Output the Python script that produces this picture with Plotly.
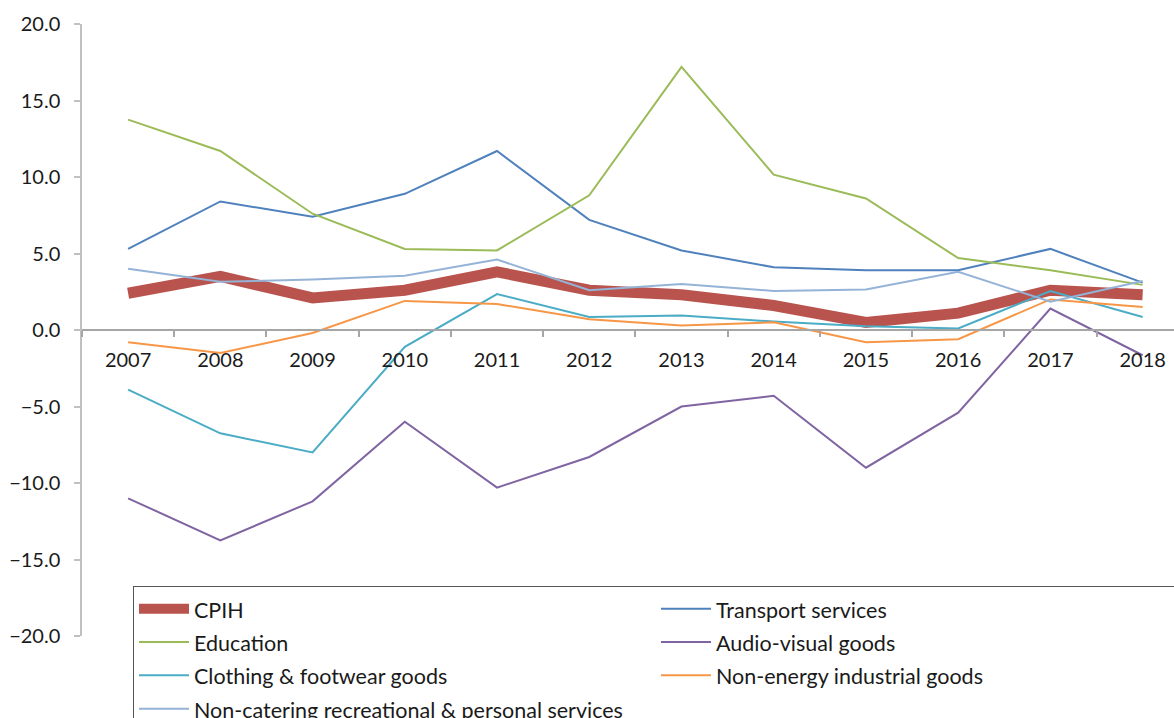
import plotly.graph_objects as go

years = ["2007", "2008", "2009", "2010", "2011", "2012", "2013", "2014", "2015", "2016", "2017", "2018"]

cpih = [2.4, 3.5, 2.1, 2.6, 3.8, 2.6, 2.3, 1.6, 0.5, 1.1, 2.6, 2.3]
transport = [5.3, 8.4, 7.4, 8.9, 11.7, 7.2, 5.2, 4.1, 3.9, 3.9, 5.3, 3.1]
education = [13.75, 11.7, 7.6, 5.3, 5.2, 8.8, 17.2, 10.15, 8.6, 4.7, 3.9, 2.95]
audio_visual = [-11.0, -13.75, -11.2, -6.0, -10.3, -8.3, -5.0, -4.3, -9.0, -5.4, 1.4, -1.65]
clothing = [-3.9, -6.75, -8.0, -1.1, 2.35, 0.85, 0.95, 0.55, 0.25, 0.1, 2.55, 0.85]
non_energy = [-0.8, -1.5, -0.2, 1.9, 1.7, 0.7, 0.3, 0.5, -0.8, -0.6, 2.0, 1.5]
non_catering = [4.0, 3.15, 3.3, 3.55, 4.6, 2.6, 3.0, 2.55, 2.65, 3.8, 1.85, 3.2]

y_ticks = [20, 15, 10, 5, 0, -5, -10, -15, -20]

series = [
    ("CPIH", cpih, "#B9534E", 11),
    ("Transport services", transport, "#4F81BD", 2),
    ("Education", education, "#9BBB59", 2),
    ("Audio-visual goods", audio_visual, "#8064A2", 2),
    ("Clothing & footwear goods", clothing, "#4BACC6", 2),
    ("Non-energy industrial goods", non_energy, "#F79646", 2),
    ("Non-catering recreational & personal services", non_catering, "#95B3D7", 2),
]

FONT = "Lato, 'Open Sans', sans-serif"
TXT = "#1a1a1a"

fig = go.Figure()
for name, vals, color, w in series:
    fig.add_trace(go.Scatter(
        x=years, y=vals, mode="lines", name=f"<span style='font-size:21.5px'>{name}</span>",
        line=dict(color=color, width=w, shape="linear"),
        hoverinfo="skip",
    ))

fig.update_layout(
    width=1174, height=718,
    margin=dict(l=82, r=0, t=24, b=82, autoexpand=False),
    plot_bgcolor="white", paper_bgcolor="white",
    font=dict(family=FONT, size=20, color=TXT),
    showlegend=True,
    legend=dict(
        orientation="h",
        x=0.0467, y=0.0815, xanchor="left", yanchor="top",
        xref="paper", yref="paper",
        entrywidth=457, entrywidthmode="pixels",
        itemwidth=50,
        bordercolor="#555555", borderwidth=1, bgcolor="white",
        font=dict(family=FONT, size=23.3, color=TXT),
        traceorder="normal",
    ),
    xaxis=dict(
        type="category",
        range=[-0.5, 11.34],
        anchor="free", position=0.5,
        showline=True, linecolor="#A6A6A6", linewidth=1.5,
        ticks="outside", ticklen=6, tickcolor="#A6A6A6", tickwidth=1.5,
        tickson="boundaries",
        showgrid=False, zeroline=False,
        ticklabelstandoff=12,
        tickfont=dict(family=FONT, size=20, color=TXT),
    ),
    yaxis=dict(
        range=[-20, 20],
        tickvals=y_ticks, tickformat=".1f",
        showline=True, linecolor="#C0C0C0", linewidth=1.5,
        ticks="outside", ticklen=6, tickcolor="#C0C0C0", tickwidth=1.5,
        showgrid=False, zeroline=False,
        ticklabelstandoff=10,
        tickfont=dict(family=FONT, size=20, color=TXT),
    ),
)

fig.write_html(
    "out.html",
    config={"displayModeBar": False},
    post_script="document.body.style.margin='0';document.body.style.overflow='hidden';",
)
